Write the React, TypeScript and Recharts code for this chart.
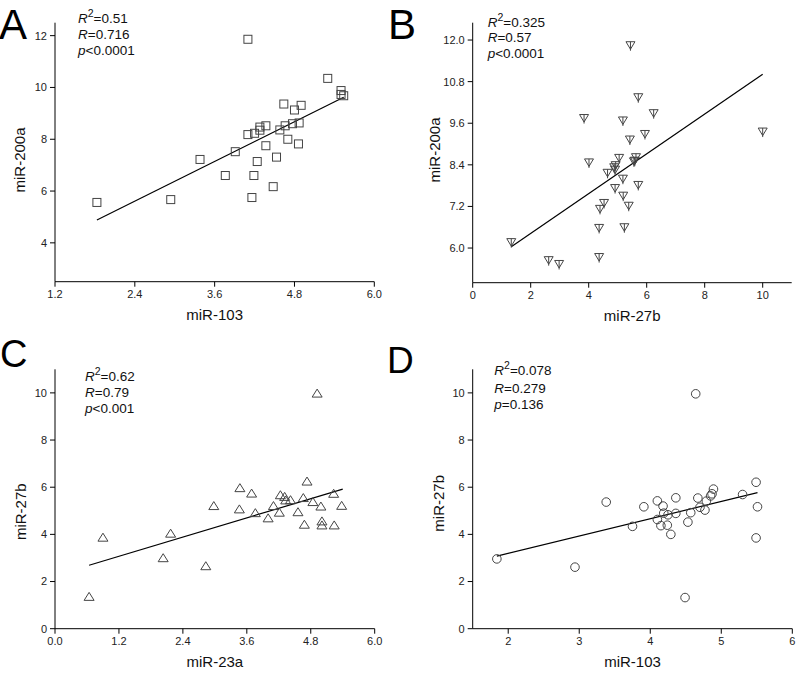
import React from 'react';
import { ScatterChart, Scatter, XAxis, YAxis, ReferenceLine } from 'recharts';

// panel A: miR-103 vs miR-200a
const aX = [1.83, 2.94, 3.38, 3.76, 3.91, 4.1, 4.1, 4.16, 4.19, 4.2, 4.24, 4.28, 4.28, 4.37, 4.37, 4.48, 4.53, 4.58, 4.64, 4.66, 4.7, 4.77, 4.8, 4.87, 4.86, 4.9, 5.3, 5.5, 5.5, 5.54];
const aY = [5.56, 5.67, 7.22, 6.6, 7.52, 11.86, 8.18, 5.75, 6.6, 8.23, 7.14, 8.35, 8.47, 7.75, 8.52, 6.17, 7.31, 8.36, 9.36, 8.52, 8.0, 8.6, 9.13, 8.63, 7.82, 9.31, 10.35, 9.88, 9.73, 9.68];
const aFit = [[1.83, 4.88], [5.54, 9.62]];

// panel B: miR-27b vs miR-200a
const bX = [1.33, 2.62, 2.98, 3.84, 4.01, 4.36, 4.36, 4.39, 4.53, 4.65, 4.88, 4.91, 4.93, 4.91, 5.05, 5.18, 5.18, 5.19, 5.23, 5.38, 5.42, 5.44, 5.56, 5.63, 5.59, 5.71, 5.71, 5.94, 6.24, 10.0];
const bY = [6.17, 5.65, 5.54, 9.75, 8.47, 5.74, 6.58, 7.13, 7.3, 8.17, 8.33, 8.26, 8.39, 7.73, 8.6, 9.68, 8.0, 7.51, 6.6, 7.22, 9.13, 11.85, 8.5, 8.62, 8.52, 10.35, 7.82, 9.29, 9.89, 9.36];
const bFit = [[1.33, 6.04], [10.0, 11.01]];

// panel C: miR-23a vs miR-27b
const cX = [0.64, 0.9, 2.03, 2.17, 2.83, 2.98, 3.46, 3.47, 3.69, 3.76, 4.0, 4.1, 4.21, 4.23, 4.31, 4.33, 4.42, 4.56, 4.66, 4.68, 4.73, 4.84, 4.92, 4.99, 5.01, 5.01, 5.24, 5.23, 5.38];
const cY = [1.35, 3.86, 2.99, 4.03, 2.65, 5.2, 5.06, 5.96, 5.73, 4.9, 4.68, 5.2, 4.92, 5.66, 5.59, 5.44, 5.45, 4.94, 5.54, 4.41, 6.24, 5.37, 9.97, 5.18, 4.55, 4.38, 4.38, 5.72, 5.21];
const cFit = [[0.64, 2.69], [5.4, 5.92]];

// panel D: miR-103 vs miR-27b
const dX = [1.84, 2.94, 3.38, 3.75, 3.91, 4.1, 4.1, 4.15, 4.18, 4.19, 4.25, 4.24, 4.29, 4.36, 4.36, 4.49, 4.53, 4.57, 4.64, 4.67, 4.7, 4.77, 4.79, 4.85, 4.87, 4.89, 5.3, 5.49, 5.49, 5.51];
const dY = [2.96, 2.61, 5.37, 4.34, 5.17, 5.42, 4.63, 4.37, 5.2, 4.9, 4.83, 4.39, 4.0, 5.55, 4.89, 1.32, 4.52, 4.92, 9.96, 5.54, 5.15, 5.03, 5.41, 5.63, 5.72, 5.92, 5.69, 6.21, 3.85, 5.17];
const dFit = [[1.84, 3.08], [5.51, 5.77]];

const FONT = '"Liberation Sans", Arial, sans-serif';
const INK = '#444';

const zip = (xs: number[], ys: number[]) => xs.map((x, i) => ({ x, y: ys[i] }));
const seg = (f: number[][]) => f.map(([x, y]) => ({ x, y }));

const Square = ({ cx, cy }: any) => (
  <rect x={cx - 4} y={cy - 4} width={8} height={8} fill="none" stroke={INK} strokeWidth={1} />
);
const DownTri = ({ cx, cy }: any) => (
  <g fill="none" stroke={INK} strokeWidth={1}>
    <path d={`M${cx - 4.5},${cy - 3.5}L${cx + 4.5},${cy - 3.5}L${cx},${cy + 4}Z`} />
    <path d={`M${cx},${cy - 3.5}L${cx},${cy + 5.5}`} />
  </g>
);
const UpTri = ({ cx, cy }: any) => (
  <path d={`M${cx},${cy - 4.5}L${cx + 5},${cy + 3.5}L${cx - 5},${cy + 3.5}Z`} fill="none" stroke={INK} strokeWidth={1} />
);
const Ring = ({ cx, cy }: any) => (
  <circle cx={cx} cy={cy} r={4.3} fill="none" stroke={INK} strokeWidth={1} />
);

const tickStyle = { fill: '#222', fontSize: 11, fontFamily: FONT };

function Stats({ x, y, lines }: { x: number; y: number[]; lines: [string, string, string] }) {
  return (
    <g fontFamily={FONT} fontSize={13.5} fill="#111">
      <text x={x} y={y[0]}>
        <tspan fontStyle="italic">R</tspan>
        <tspan dy={-6} fontSize={10.5}>2</tspan>
        <tspan dy={6}>{lines[0]}</tspan>
      </text>
      <text x={x} y={y[1]}>
        <tspan fontStyle="italic">R</tspan>
        <tspan>{lines[1]}</tspan>
      </text>
      <text x={x} y={y[2]}>
        <tspan fontStyle="italic">p</tspan>
        <tspan>{lines[2]}</tspan>
      </text>
    </g>
  );
}

function Panel(props: any) {
  const { left, top, width, height, plot, xDomain, xTicks, xFmt, yDomain, yTicks, yFmt, data, fit, shape,
    xTitle, yTitle, yTitlePos, letter, letterPos, letterSize, stats, statsX, statsY } = props;
  const [px0, px1, py0, py1] = plot;
  return (
    <div style={{ position: 'absolute', left, top }}>
      <ScatterChart
        width={width}
        height={height}
        margin={{ top: py0, right: width - px1, left: 0, bottom: 0 }}
      >
        <XAxis
          type="number"
          dataKey="x"
          domain={xDomain}
          ticks={xTicks}
          tickFormatter={xFmt}
          height={height - py1}
          stroke="#000"
          tickSize={5}
          tickMargin={3}
          tick={tickStyle}
          allowDataOverflow
        />
        <YAxis
          type="number"
          dataKey="y"
          domain={yDomain}
          ticks={yTicks}
          tickFormatter={yFmt}
          width={px0}
          stroke="#000"
          tickSize={5}
          tickMargin={3}
          tick={tickStyle}
          allowDataOverflow
        />
        <ReferenceLine segment={seg(fit)} stroke="#000" strokeWidth={1.2} />
        <Scatter data={data} shape={shape} isAnimationActive={false} />
        <text x={(px0 + px1) / 2} y={py1 + 33} textAnchor="middle" dominantBaseline="central"
          fontFamily={FONT} fontSize={15} fill="#111">{xTitle}</text>
        <text x={yTitlePos[0]} y={yTitlePos[1]} textAnchor="middle" dominantBaseline="central"
          transform={`rotate(-90 ${yTitlePos[0]} ${yTitlePos[1]})`}
          fontFamily={FONT} fontSize={15} fill="#111">{yTitle}</text>
        <text x={letterPos[0]} y={letterPos[1]} fontFamily={FONT} fontSize={letterSize} fill="#000">{letter}</text>
        <Stats x={statsX} y={statsY} lines={stats} />
      </ScatterChart>
    </div>
  );
}

const f1 = (v: number) => v.toFixed(1);

export default function App() {
  return (
    <div style={{ position: 'absolute', left: 0, top: 0, width: 800, height: 673, background: '#fff', overflow: 'hidden' }}>
      <Panel
        left={0} top={0} width={400} height={326}
        plot={[55, 374.3, 22.7, 281.7]}
        xDomain={[1.2, 6.0]} xTicks={[1.2, 2.4, 3.6, 4.8, 6.0]} xFmt={f1}
        yDomain={[2.5, 12.5]} yTicks={[4, 6, 8, 10, 12]}
        data={zip(aX, aY)} fit={aFit} shape={Square}
        xTitle="miR-103" yTitle="miR-200a" yTitlePos={[19, 160]}
        letter="A" letterPos={[-1, 38.5]} letterSize={42}
        stats={['=0.51', '=0.716', '<0.0001']} statsX={78} statsY={[23.3, 39.3, 55]}
      />
      <Panel
        left={380} top={0} width={420} height={326}
        plot={[92.7, 411.7, 22.7, 282.7]}
        xDomain={[0, 11]} xTicks={[0, 2, 4, 6, 8, 10]}
        yDomain={[5, 12.5]} yTicks={[6, 7.2, 8.4, 9.6, 10.8, 12]} yFmt={f1}
        data={zip(bX, bY)} fit={bFit} shape={DownTri}
        xTitle="miR-27b" yTitle="miR-200a" yTitlePos={[54, 150]}
        letter="B" letterPos={[8, 38.5]} letterSize={42}
        stats={['=0.325', '=0.57', '<0.0001']} statsX={107.7} statsY={[27.3, 42.3, 58.3]}
      />
      <Panel
        left={0} top={326} width={400} height={347}
        plot={[55, 374.7, 43.3, 302.7]}
        xDomain={[0, 6]} xTicks={[0, 1.2, 2.4, 3.6, 4.8, 6.0]} xFmt={f1}
        yDomain={[0, 11]} yTicks={[0, 2, 4, 6, 8, 10]}
        data={zip(cX, cY)} fit={cFit} shape={UpTri}
        xTitle="miR-23a" yTitle="miR-27b" yTitlePos={[20.7, 185.7]}
        letter="C" letterPos={[0, 41]} letterSize={38}
        stats={['=0.62', '=0.79', '<0.001']} statsX={85} statsY={[55, 70.7, 87.3]}
      />
      <Panel
        left={380} top={326} width={420} height={347}
        plot={[92.7, 412.3, 43.3, 302.7]}
        xDomain={[1.5, 6]} xTicks={[2, 3, 4, 5, 6]}
        yDomain={[0, 11]} yTicks={[0, 2, 4, 6, 8, 10]}
        data={zip(dX, dY)} fit={dFit} shape={Ring}
        xTitle="miR-103" yTitle="miR-27b" yTitlePos={[59, 177.3]}
        letter="D" letterPos={[7, 47]} letterSize={37}
        stats={['=0.078', '=0.279', '=0.136']} statsX={114.3} statsY={[49, 66.7, 83.3]}
      />
    </div>
  );
}
